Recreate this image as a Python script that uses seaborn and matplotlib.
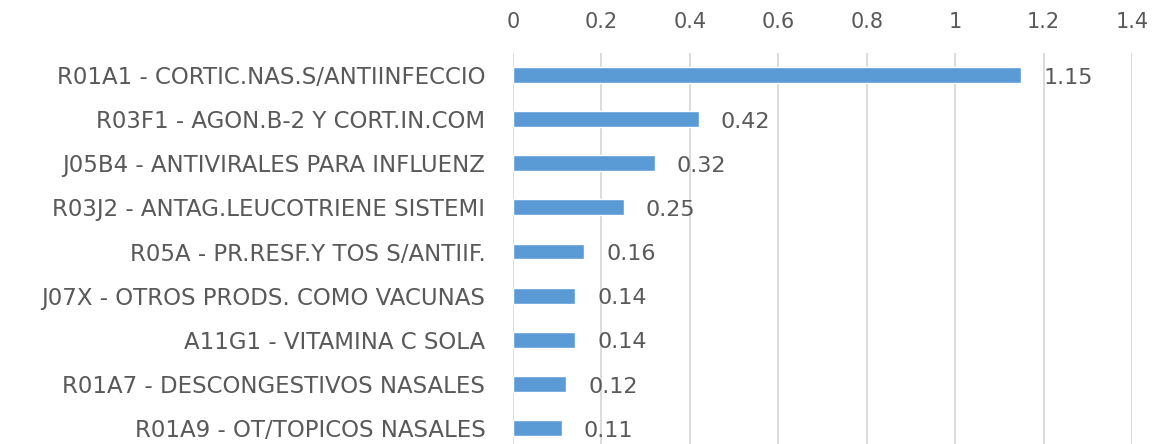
import matplotlib
matplotlib.use("Agg")
import matplotlib.pyplot as plt
import seaborn as sns
import pandas as pd

sns.set_theme(style="white")
plt.rcParams['font.family'] = ['DejaVu Sans']

# datos
categorias = [
    "R01A1 - CORTIC.NAS.S/ANTIINFECCIO",
    "R03F1 - AGON.B-2 Y CORT.IN.COM",
    "J05B4 - ANTIVIRALES PARA INFLUENZ",
    "R03J2 - ANTAG.LEUCOTRIENE SISTEMI",
    "R05A - PR.RESF.Y TOS S/ANTIIF.",
    "J07X - OTROS PRODS. COMO VACUNAS",
    "A11G1 - VITAMINA C SOLA",
    "R01A7 - DESCONGESTIVOS NASALES",
    "R01A9 - OT/TOPICOS NASALES",
]
valores = [1.15, 0.42, 0.32, 0.25, 0.16, 0.14, 0.14, 0.12, 0.11]
ticks = [0, 0.2, 0.4, 0.6, 0.8, 1.0, 1.2, 1.4]
tick_labels = ["0", "0.2", "0.4", "0.6", "0.8", "1", "1.2", "1.4"]

df = pd.DataFrame({"cat": categorias, "val": valores})

texto = "#595959"
azul = "#5B9BD5"

fig = plt.figure(figsize=(11.55, 4.44), dpi=100)
ax = fig.add_axes([0.4442, -0.0135, 0.5359, 0.8941])

sns.barplot(data=df, x="val", y="cat", color=azul, saturation=1, width=0.36, ax=ax)

ax.set_xlim(0, 1.4)
ax.set_ylim(8.5, -0.5)
ax.xaxis.tick_top()
ax.set_xticks(ticks)
ax.set_xticklabels(tick_labels)
ax.tick_params(axis="x", length=0, pad=15, labelsize=15, labelcolor=texto)
ax.tick_params(axis="y", length=0, pad=20, labelsize=16.5, labelcolor=texto)
ax.set_xlabel("")
ax.set_ylabel("")

ax.grid(axis="x", color="#D9D9D9", linewidth=1.3)
ax.set_axisbelow(True)
for s in ax.spines.values():
    s.set_visible(False)

for i, v in enumerate(valores):
    ax.annotate(f"{v:.2f}", xy=(v, i), xytext=(16, -2), textcoords="offset points",
                ha="left", va="center", fontsize=16, color=texto)

fig.savefig("out.png", dpi=100)
